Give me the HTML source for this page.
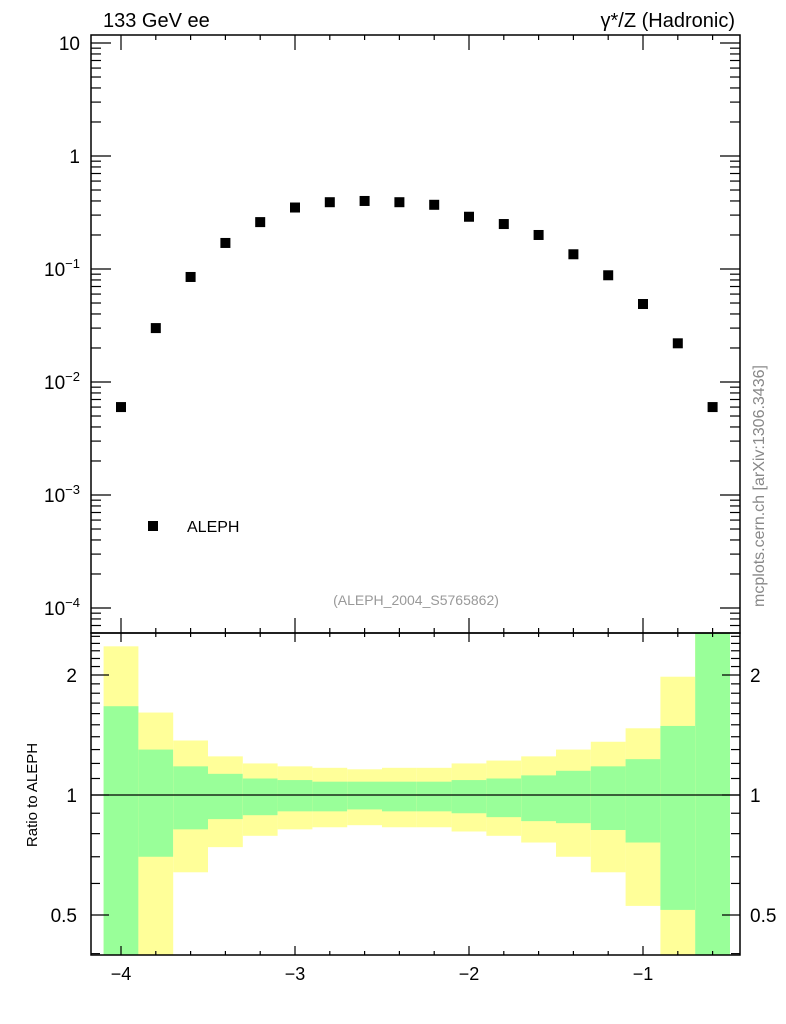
<!DOCTYPE html>
<html><head><meta charset="utf-8"><style>
html,body{margin:0;padding:0;background:#fff}
svg{display:block;font-family:"Liberation Sans",sans-serif}
</style></head><body>
<svg id="c" width="786" height="1024" viewBox="0 0 786 1024" xmlns="http://www.w3.org/2000/svg">
<g id="bands"></g>
<g id="marks"></g>
<g id="axes"></g>
<text x="103" y="27" font-size="20">133 GeV ee</text>
<text x="735" y="27" font-size="20" text-anchor="end">γ*/Z (Hadronic)</text>
<text x="416" y="605" font-size="14" fill="#999" text-anchor="middle">(ALEPH_2004_S5765862)</text>
<text transform="translate(764,486) rotate(-90)" font-size="16" fill="#888" text-anchor="middle">mcplots.cern.ch [arXiv:1306.3436]</text>
<text transform="translate(37,795) rotate(-90)" font-size="15" text-anchor="middle">Ratio to ALEPH</text>
<rect x="148" y="521" width="10" height="10" fill="#000"/>
<text x="187" y="532" font-size="16">ALEPH</text>
</svg>
<script>
const xCenters=[-4,-3.8,-3.6,-3.4,-3.2,-3.0,-2.8,-2.6,-2.4,-2.2,-2.0,-1.8,-1.6,-1.4,-1.2,-1.0,-0.8,-0.6];
const yValues=[0.006,0.03,0.085,0.17,0.26,0.35,0.39,0.40,0.39,0.37,0.29,0.25,0.20,0.135,0.088,0.049,0.022,0.006];
const yellowHi=[2.36,1.61,1.37,1.25,1.20,1.18,1.17,1.16,1.17,1.17,1.20,1.22,1.25,1.30,1.36,1.47,1.98,3.0];
const greenHi=[1.67,1.30,1.18,1.13,1.10,1.09,1.08,1.08,1.08,1.08,1.09,1.10,1.12,1.15,1.18,1.23,1.49,3.0];
const greenLo=[0.3,0.70,0.82,0.87,0.89,0.91,0.91,0.92,0.91,0.91,0.90,0.88,0.86,0.85,0.817,0.76,0.515,0.3];
const yellowLo=[0.3,0.3,0.64,0.74,0.79,0.82,0.83,0.84,0.83,0.83,0.81,0.79,0.76,0.70,0.64,0.527,0.3,0.3];
const binHalf=0.1;
const NS="http://www.w3.org/2000/svg";
const L=91,R=740,T=35,M=633,B=955;
const X=v=>121+(v+4)*174;
const Y=v=>156-Math.log10(v)*113;
const YR=v=>795-Math.log10(v)*398.7;
function mk(tag,attrs,parent){const e=document.createElementNS(NS,tag);for(const k in attrs)e.setAttribute(k,attrs[k]);parent.appendChild(e);return e;}
const bands=document.getElementById('bands'),marks=document.getElementById('marks'),axes=document.getElementById('axes');
const clampY=y=>Math.max(M,Math.min(B,y));
xCenters.forEach((c,i)=>{
  const x0=X(c-binHalf),x1=X(c+binHalf);
  let y1=clampY(YR(yellowHi[i])),y2=clampY(YR(yellowLo[i]));
  const ry=mk('rect',{x:x0,y:y1,width:x1-x0,height:y2-y1,fill:'#ffff99'},bands);
  
  
  y1=clampY(YR(greenHi[i]));y2=clampY(YR(greenLo[i]));
  const rg=mk('rect',{x:x0,y:y1,width:x1-x0,height:y2-y1,fill:'#99ff99'},bands);
  
  
  const p=mk('rect',{x:X(c)-5,y:Y(yValues[i])-5,width:10,height:10,fill:'#000'},marks);
  
  
});
mk('line',{x1:L,x2:R,y1:YR(1),y2:YR(1),stroke:'#000','stroke-width':1.2},axes);
mk('rect',{x:L,y:T,width:R-L,height:M-T,fill:'none',stroke:'#000','stroke-width':1.5},axes);
mk('rect',{x:L,y:M,width:R-L,height:B-M,fill:'none',stroke:'#000','stroke-width':1.5},axes);
// x ticks every 0.2
for(let k=-21;k<=-2;k++){const v=k/5;const x=X(v);if(x<L||x>R)continue;const maj=(k%5===0);
  const lt=maj?15:5, lb=maj?9:4;
  [[T,T+lt],[M,M-lt],[M,M+lb],[B,B-lb]].forEach(([a,b])=>mk('line',{x1:x,x2:x,y1:a,y2:b,stroke:'#000','stroke-width':1.2},axes));
  if(maj){const t=mk('text',{x:x,y:B+25,'font-size':18,'text-anchor':'middle'},axes);t.textContent='\u2212'+Math.abs(v);}}
// top y ticks log
for(let e=-5;e<=1;e++){for(let m=1;m<10;m++){const v=m*Math.pow(10,e);const y=Y(v);if(y<T||y>M)continue;const len=m===1?20:10;
  mk('line',{x1:L,x2:L+len,y1:y,y2:y,stroke:'#000','stroke-width':1.2},axes);
  mk('line',{x1:R,x2:R-len,y1:y,y2:y,stroke:'#000','stroke-width':1.2},axes);}}
const ylab=[['10',10],['1',1]];
ylab.forEach(([s,v])=>{const t=mk('text',{x:80,y:Y(v)+7,'font-size':19,'text-anchor':'end'},axes);t.textContent=s;});
[-1,-2,-3,-4].forEach(e=>{const t=mk('text',{x:80,y:Y(Math.pow(10,e))+7,'font-size':19,'text-anchor':'end'},axes);
  t.textContent='10';const s=mk('tspan',{dy:-8,'font-size':13},t);s.textContent='\u2212'+(-e);});
// ratio ticks
for(let m=4;m<=25;m++){const v=m/10;const y=YR(v);if(y<M||y>B)continue;const maj=(v===0.5||v===1||v===2);const len=maj?18:9;
  mk('line',{x1:L,x2:L+len,y1:y,y2:y,stroke:'#000','stroke-width':1.2},axes);
  mk('line',{x1:R,x2:R-len,y1:y,y2:y,stroke:'#000','stroke-width':1.2},axes);}
[['2',2],['1',1],['0.5',0.5]].forEach(([s,v])=>{
  let t=mk('text',{x:77,y:YR(v)+7,'font-size':19,'text-anchor':'end'},axes);t.textContent=s;
  t=mk('text',{x:750,y:YR(v)+7,'font-size':19},axes);t.textContent=s;});
</script>
</body></html>
